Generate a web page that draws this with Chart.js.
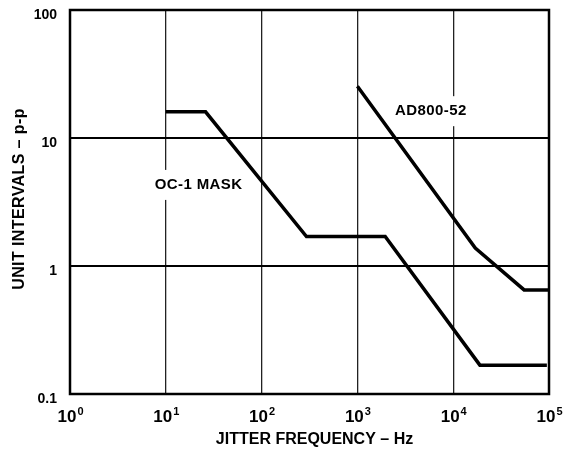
<!DOCTYPE html>
<html>
<head>
<meta charset="utf-8">
<script src="https://cdn.jsdelivr.net/npm/chart.js@4/dist/chart.umd.min.js"></script>
<style>
  html, body { margin: 0; padding: 0; background: #fff; }
  #wrap { width: 568px; height: 450px; }
</style>
</head>
<body>
<div id="wrap"><canvas id="jitterChart"></canvas></div>
<script>
// OC-1 jitter tolerance mask
const ocFreq = [10, 26, 294, 1950, 19000, 95000];
const ocUI = [16, 16, 1.7, 1.7, 0.168, 0.168];

// AD800-52 measured tolerance
const adFreq = [1000, 17000, 55000, 100000];
const adUI = [25.4, 1.38, 0.65, 0.65];

// decade ticks
const xTicks = [1, 10, 100, 1000, 10000, 100000];
const xExp = ['0', '1', '2', '3', '4', '5'];
const yTicks = [0.1, 1, 10, 100];
const yTickLabels = ['0.1', '1', '10', '100'];

const FONT = '"Liberation Sans", Arial, sans-serif';

function toPoints(xs, ys) {
    return xs.map((x, i) => ({ x: x, y: ys[i] }));
}

// text drawing: tick labels, axis titles, curve labels, frame
const textPlugin = {
    id: 'textPlugin',
    beforeDatasetsDraw(chart) {
        const ctx = chart.ctx;
        const xs = chart.scales.x, ys = chart.scales.y;
        ctx.save();
        ctx.font = 'bold 15px ' + FONT;
        ctx.letterSpacing = '0.4px';
        ctx.textAlign = 'center';
        ctx.textBaseline = 'middle';
        // curve labels sit on white boxes that break the grid
        const labels = [
            { text: 'OC-1 MASK', x: xs.getPixelForValue(22), y: ys.getPixelForValue(4.3) },
            { text: 'AD800-52', x: xs.getPixelForValue(5850), y: ys.getPixelForValue(16.2) }
        ];
        labels.forEach(l => {
            const w = ctx.measureText(l.text).width;
            ctx.fillStyle = '#fff';
            ctx.fillRect(l.x - w / 2 - 4, l.y - 15, w + 8, 30);
            ctx.fillStyle = '#000';
            ctx.fillText(l.text, l.x, l.y);
        });
        ctx.restore();
    },
    afterDatasetsDraw(chart) {
        const ctx = chart.ctx;
        const area = chart.chartArea;
        const xs = chart.scales.x, ys = chart.scales.y;
        ctx.save();
        // frame
        ctx.strokeStyle = '#000';
        ctx.lineWidth = 2.5;
        ctx.strokeRect(area.left, area.top, area.right - area.left, area.bottom - area.top);

        ctx.fillStyle = '#000';
        // y tick labels
        ctx.font = 'bold 14px ' + FONT;
        ctx.textAlign = 'right';
        ctx.textBaseline = 'middle';
        yTicks.forEach((v, i) => {
            ctx.fillText(yTickLabels[i], area.left - 13, ys.getPixelForValue(v) + 5);
        });

        // x tick labels with superscript exponents
        ctx.textBaseline = 'alphabetic';
        xTicks.forEach((v, i) => {
            const px = xs.getPixelForValue(v);
            ctx.font = 'bold 17px ' + FONT;
            const bw = ctx.measureText('10').width;
            ctx.font = 'bold 11px ' + FONT;
            const ew = ctx.measureText(xExp[i]).width;
            const left = px - (bw + ew) / 2;
            ctx.textAlign = 'left';
            ctx.font = 'bold 17px ' + FONT;
            ctx.fillText('10', left, 422);
            ctx.font = 'bold 11px ' + FONT;
            ctx.fillText(xExp[i], left + bw + 1, 415);
        });

        // axis titles
        ctx.font = 'bold 16px ' + FONT;
        ctx.textAlign = 'center';
        ctx.textBaseline = 'middle';
        ctx.fillText('JITTER FREQUENCY \u2013 Hz', (area.left + area.right) / 2 + 5, 440);
        ctx.letterSpacing = '0.4px';
        ctx.translate(19.5, (area.top + area.bottom) / 2 - 3);
        ctx.rotate(-Math.PI / 2);
        ctx.fillText('UNIT INTERVALS \u2013 p-p', 0, 0);
        ctx.restore();
    }
};

const ctx = document.getElementById('jitterChart').getContext('2d');
const chart = new Chart(ctx, {
    type: 'scatter',
    data: {
        datasets: [
            {
                label: 'OC-1 MASK',
                data: toPoints(ocFreq, ocUI),
                showLine: true,
                borderColor: '#000',
                borderWidth: 3.5,
                borderJoinStyle: 'miter',
                pointRadius: 0,
                tension: 0
            },
            {
                label: 'AD800-52',
                data: toPoints(adFreq, adUI),
                showLine: true,
                borderColor: '#000',
                borderWidth: 3.5,
                borderJoinStyle: 'miter',
                pointRadius: 0,
                tension: 0
            }
        ]
    },
    options: {
        responsive: true,
        maintainAspectRatio: false,
        animation: false,
        layout: { padding: { top: 10, right: 19, left: 0, bottom: 0 } },
        plugins: {
            legend: { display: false },
            tooltip: { enabled: false }
        },
        scales: {
            x: {
                type: 'logarithmic',
                min: 1,
                max: 100000,
                afterBuildTicks: s => { s.ticks = xTicks.map(v => ({ value: v })); },
                afterFit: s => { s.height = 56; },
                ticks: { display: false },
                grid: { color: '#222', lineWidth: 1.3, drawTicks: false },
                border: { display: false }
            },
            y: {
                type: 'logarithmic',
                min: 0.1,
                max: 100,
                afterBuildTicks: s => { s.ticks = yTicks.map(v => ({ value: v })); },
                afterFit: s => { s.width = 70; },
                ticks: { display: false },
                grid: { color: '#000', lineWidth: 2, drawTicks: false },
                border: { display: false }
            }
        }
    },
    plugins: [textPlugin]
});
</script>
</body>
</html>
